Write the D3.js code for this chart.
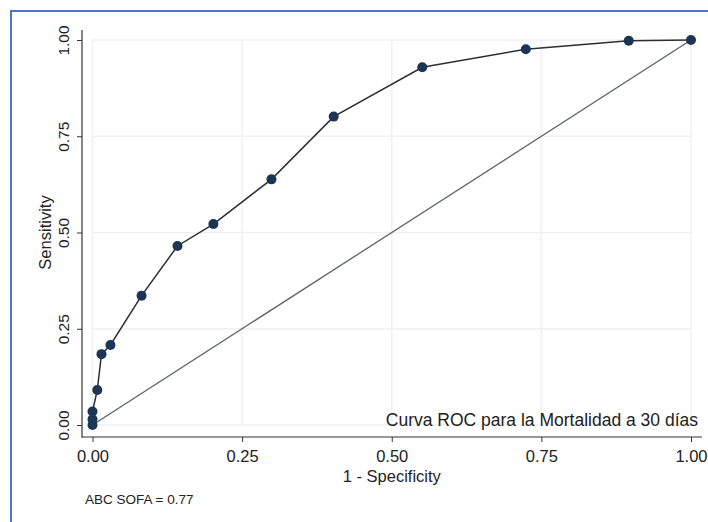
<!DOCTYPE html>
<html>
<head>
<meta charset="utf-8">
<script src="https://cdn.jsdelivr.net/npm/d3@7"></script>
<style>
  html, body { margin: 0; padding: 0; background: #fff; }
  svg { display: block; }
  text { font-family: "Liberation Sans", Arial, sans-serif; fill: #222; }
</style>
</head>
<body>
<svg id="chart" width="708" height="522"></svg>
<script>
// ROC curve points: 1 - specificity (x) and sensitivity (y)
const falsePositiveRate = [0, 0, 0, 0.008, 0.015, 0.030, 0.082, 0.142, 0.202, 0.299, 0.403, 0.551, 0.724, 0.896, 1];
const sensitivity       = [0, 0.015, 0.035, 0.091, 0.184, 0.208, 0.336, 0.465, 0.522, 0.638, 0.801, 0.929, 0.976, 0.998, 1];
// Reference (chance) line
const chanceX = [0, 1];
const chanceY = [0, 1];
const tickValues = [0, 0.25, 0.5, 0.75, 1];
const tickLabels = ["0.00", "0.25", "0.50", "0.75", "1.00"];
const xTitle = "1 - Specificity";
const yTitle = "Sensitivity";
const noteText = "Curva ROC para la Mortalidad a 30 días";
const aucText = "ABC SOFA = 0.77";

const svg = d3.select("#chart");

// frame
svg.append("rect")
  .attr("x", 11).attr("y", 11).attr("width", 720).attr("height", 530)
  .attr("fill", "none").attr("stroke", "#4a76c8").attr("stroke-width", 2);

const x = d3.scaleLinear().domain([0, 1]).range([92.5, 691]);
const y = d3.scaleLinear().domain([0, 1]).range([425, 40]);

// grid
const grid = svg.append("g").attr("stroke", "#f0f0f0").attr("stroke-width", 1.5);
tickValues.forEach(v => {
  grid.append("line").attr("x1", x(0)).attr("x2", x(1)).attr("y1", y(v)).attr("y2", y(v));
  grid.append("line").attr("x1", x(v)).attr("x2", x(v)).attr("y1", y(0)).attr("y2", y(1));
});

// axes
const fmt = d => tickLabels[tickValues.indexOf(d)];
const yAxis = svg.append("g").attr("transform", "translate(82,0)")
  .call(d3.axisLeft(y).tickValues(tickValues).tickFormat(fmt).tickSize(5).tickPadding(4));
yAxis.select(".domain").remove();
yAxis.selectAll(".tick line").attr("stroke", "#333");
yAxis.selectAll(".tick text")
  .attr("font-size", 15.5).attr("fill", "#222")
  .attr("transform", "rotate(-90)")
  .attr("x", 0).attr("y", -13).attr("dy", 0)
  .attr("text-anchor", "middle");

const xAxis = svg.append("g").attr("transform", "translate(0,437)")
  .call(d3.axisBottom(x).tickValues(tickValues).tickFormat(fmt).tickSize(5).tickPadding(5));
xAxis.select(".domain").remove();
xAxis.selectAll(".tick line").attr("stroke", "#333");
xAxis.selectAll(".tick text").attr("font-size", 16.5).attr("fill", "#222").attr("dy", "0.9em");

svg.append("line").attr("x1", 82).attr("x2", 82).attr("y1", 30).attr("y2", 437.5)
  .attr("stroke", "#333").attr("stroke-width", 1.2);
svg.append("line").attr("x1", 81.5).attr("x2", 702).attr("y1", 437).attr("y2", 437)
  .attr("stroke", "#333").attr("stroke-width", 1.2);

// titles
svg.append("text").attr("x", x(0.5)).attr("y", 482)
  .attr("text-anchor", "middle").attr("font-size", 16.5).text(xTitle);
svg.append("text").attr("transform", `translate(51,${y(0.5)}) rotate(-90)`)
  .attr("text-anchor", "middle").attr("font-size", 16.5).text(yTitle);

// chance line
const line = d3.line().x(d => x(d[0])).y(d => y(d[1]));
svg.append("path").datum(d3.zip(chanceX, chanceY)).attr("d", line)
  .attr("fill", "none").attr("stroke", "#56636a").attr("stroke-width", 1.3);

// ROC curve
const roc = d3.zip(falsePositiveRate, sensitivity);
svg.append("path").datum(roc).attr("d", line)
  .attr("fill", "none").attr("stroke", "#2a2f36").attr("stroke-width", 1.5);
svg.append("g").selectAll("circle").data(roc).join("circle")
  .attr("cx", d => x(d[0])).attr("cy", d => y(d[1])).attr("r", 5)
  .attr("fill", "#1d3554");

// notes
svg.append("text").attr("x", 698).attr("y", 426)
  .attr("text-anchor", "end").attr("font-size", 17.5).text(noteText);
svg.append("text").attr("x", 85).attr("y", 504)
  .attr("font-size", 13.5).text(aucText);
</script>
</body>
</html>
